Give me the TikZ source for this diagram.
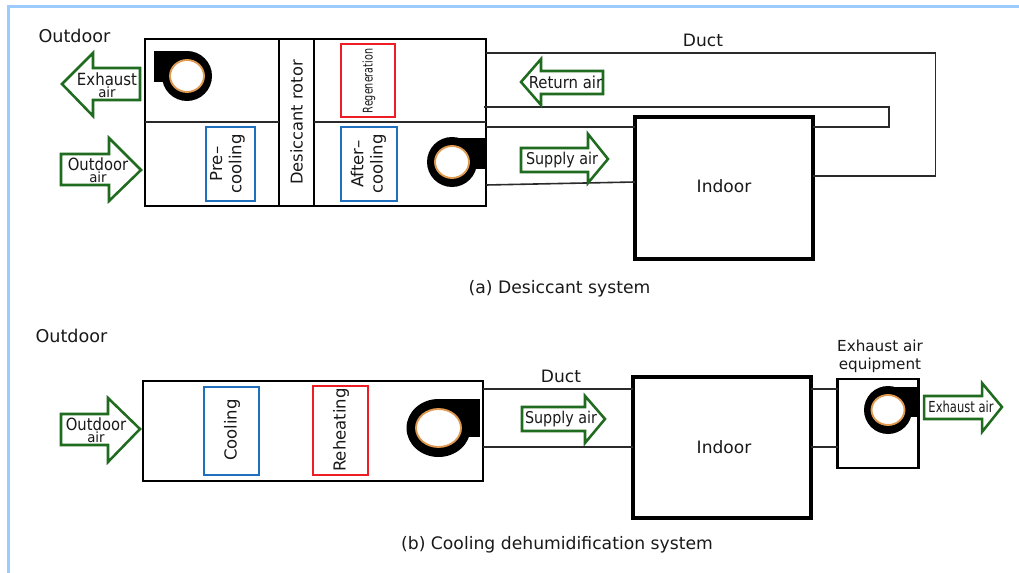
\documentclass[tikz,border=0pt]{standalone}
\usepackage{graphicx}
\usepackage{fontspec}
\setmainfont{DejaVu Sans}
\usetikzlibrary{shapes.geometric}
\newcommand{\fsz}[1]{\fontsize{#1}{#1}\selectfont}
\newcommand{\fszl}[2]{\fontsize{#1}{#2}\selectfont}
\newcommand{\squeeze}[2]{\scalebox{#1}[1]{#2}}
% name, style, x1, y1, x2, y2 in reference pixels
\newcommand{\pxbox}[6]{\node[#2,minimum width={(#5-#3)*0.75pt},minimum height={(#6-#4)*0.75pt}] (#1) at ({(#3+#5)/2},{(#4+#6)/2}) {};}
% name, cx, cy, rx, ry, corner x, top y, lower y, inner rx (inner ry in \fanry)
\newcommand{\pxfan}[9]{\fill[black] (#2,#3) ellipse [x radius=#4,y radius=#5];
  \fill[black] (#2,#7) rectangle (#6,#8);
  \node[fanhub,minimum width={#9*1.5pt},minimum height={\fanry*1.5pt}] (#1) at (#2,#3) {};}
\definecolor{frameblue}{HTML}{9CCBFF}
\definecolor{airgreen}{HTML}{1F6B1F}
\definecolor{coolblue}{HTML}{1F6FBF}
\definecolor{heatred}{HTML}{EE1C25}
\definecolor{ringorange}{HTML}{E09A50}
\definecolor{ductgray}{HTML}{2A2A2A}
\tikzset{
  box/.style={draw,rectangle,inner sep=0pt,outer sep=0pt},
  unit/.style={box,draw=black,line width=1.9pt},
  room/.style={box,draw=black,line width=3pt},
  hx/.style={box,line width=1.8pt},
  cool/.style={hx,draw=coolblue},
  heat/.style={hx,draw=heatred},
  duct/.style={draw=ductgray,line width=1.2pt},
  part/.style={draw=ductgray,line width=1.2pt},
  airarrow/.style={draw=airgreen,fill=white,line width=1.9pt,miter limit=10},
  fanhub/.style={draw=ringorange,fill=white,ellipse,line width=1.4pt,inner sep=0pt,outer sep=0pt},
  lab/.style={inner sep=0pt,outer sep=0pt,align=center,text=black!90},
}
\begin{document}
\begin{tikzpicture}[x=0.75pt,y=-0.75pt]
\useasboundingbox (0,0) rectangle (1019,573);
\fill[white] (0,0) rectangle (1019,573);
\fill[frameblue] (7,5) rectangle (1019,8);
\fill[frameblue] (7,5) rectangle (10,573);

% ---------- (a) ----------
\pxbox{unitA}{unit}{145}{39}{486}{206}
\pxbox{rotor}{unit}{279}{39}{314}{206}
\coordinate (splitA) at (145,122);
\draw[part] (splitA) -- (splitA -| rotor.west);
\draw[part] (splitA -| rotor.east) -- (splitA -| unitA.east);

\pxbox{regen}{heat}{341}{44}{395}{117}
\pxbox{precool}{cool}{206}{127}{255}{201}
\pxbox{aftercool}{cool}{341}{127}{397}{201}

\def\fanry{16}
\pxfan{fanA}{187}{76}{25}{25}{154}{51}{82}{17}
\def\fanry{16}
\pxfan{fanB}{452}{162}{25}{25}{485}{138}{169}{17}

\node[lab,rotate=90] (rotorL) at (rotor.center) {\fsz{12.2}Desiccant rotor};
\node[lab,rotate=90] (regenL) at (369,81) {\fsz{10}\squeeze{0.72}{Regeneration}};
\node[lab,rotate=90,font=\fszl{12.4}{14.5}] (preL) at (227.5,164) {Pre–\\cooling};
\node[lab,rotate=90,font=\fszl{12.4}{14.5}] (afterL) at (368.5,164) {After–\\cooling};

\node[room,minimum width={178*0.75pt},minimum height={142*0.75pt}] (indoorA) at (724,188) {};
\node[lab] (indoorAL) at (724,186) {\fsz{12.8}Indoor};

\coordinate (topCorner) at (935.5,53);
\coordinate (backCorner) at (935.5,176);
\coordinate (midStart) at (483.5,107);
\coordinate (midCorner) at (889,107);
\coordinate (lowCorner) at (889,127);
\coordinate (supplyA) at (486,185);
\coordinate (supplyB) at (635,182);
\draw[duct] (unitA.east |- topCorner) -- (topCorner) -- (backCorner) -- (indoorA.east |- backCorner);
\draw[duct] (midStart) -- (midCorner) -- (lowCorner) -- (indoorA.east |- lowCorner);
\draw[duct] (unitA.east |- lowCorner) -- (indoorA.west |- lowCorner);
\draw[duct] (supplyA) -- (supplyB);

\node[lab] (ductA) at (703,40) {\fsz{12.8}Duct};
\node[lab] (outA) at (74.5,36) {\fsz{13.2}Outdoor};
\node[lab] (capA) at (559.5,288.5) {\fsz{12.9}(a) Desiccant system};

\draw[airarrow] (140,68) -- (93,68) -- (93,53) -- (62,84) -- (93,116) -- (93,100) -- (140,100) -- cycle;
\node[lab,font=\fszl{12.6}{9.2}] (exhA) at (107,85.5) {\squeeze{0.89}{Exhaust}\\\fszl{10.5}{9.2}\squeeze{0.95}{air}};

\draw[airarrow] (61,154) -- (109,154) -- (109,138) -- (141,170) -- (109,201) -- (109,185) -- (61,185) -- cycle;
\node[lab,font=\fszl{12.6}{9.2}] (oaA) at (98,170.5) {\squeeze{0.88}{Outdoor}\\\fszl{10.5}{9.2}\squeeze{0.95}{air}};

\draw[airarrow] (603,71) -- (541,71) -- (541,59) -- (521,82) -- (541,105) -- (541,94) -- (603,94) -- cycle;
\node[lab] (retL) at (565.5,82) {\fsz{12.4}\squeeze{0.9}{Return air}};

\draw[airarrow] (521,148) -- (588,148) -- (588,134) -- (608,159) -- (588,183) -- (588,172) -- (521,172) -- cycle;
\node[lab] (supA) at (562,160) {\fsz{12.2}\squeeze{0.88}{Supply air}};

% ---------- (b) ----------
\pxbox{unitC}{unit}{143}{381}{483}{481}
\pxbox{coolb}{cool}{204}{387}{259}{475}
\pxbox{reheat}{heat}{313}{386}{368}{475}
\node[lab,rotate=90] (coolL) at (232,430) {\fsz{12.4}Cooling};
\node[lab,rotate=90] (reheatL) at (341,430) {\fsz{12.4}Reheating};

\def\fanry{19}
\pxfan{fanC}{438.5}{428}{32}{29}{480}{399}{437}{22.5}

\node[room,minimum width={178*0.75pt},minimum height={141*0.75pt}] (indoorB) at (721.5,447.5) {};
\node[lab] (indoorBL) at (724,447) {\fsz{12.8}Indoor};

\pxbox{exhBox}{box,draw=black,line width=1.8pt}{837.5}{379}{918.5}{468}
\def\fanry{15}
\pxfan{fanD}{888}{410}{24}{24}{917}{387}{417}{16.5}

\coordinate (ductTopB) at (0,389);
\coordinate (ductBotB) at (0,447);
\draw[duct] (unitC.east |- ductTopB) -- (indoorB.west |- ductTopB);
\draw[duct] (unitC.east |- ductBotB) -- (indoorB.west |- ductBotB);
\draw[duct] (indoorB.east |- ductTopB) -- (exhBox.west |- ductTopB);
\draw[duct] (indoorB.east |- ductBotB) -- (exhBox.west |- ductBotB);

\node[lab] (ductB) at (561,376.5) {\fsz{12.8}Duct};
\node[lab] (outB) at (71.5,336) {\fsz{13.2}Outdoor};
\node[lab] (capB) at (557,544.5) {\fsz{12.9}(b) Cooling dehumidification system};
\node[lab,font=\fszl{11.4}{13.4}] (eqL) at (880,356) {Exhaust air\\equipment};

\draw[airarrow] (61,414) -- (108,414) -- (108,398) -- (140,429) -- (108,462) -- (108,445) -- (61,445) -- cycle;
\node[lab,font=\fszl{12.6}{9.2}] (oaB) at (96,430.5) {\squeeze{0.88}{Outdoor}\\\fszl{10.5}{9.2}\squeeze{0.95}{air}};

\draw[airarrow] (522,407) -- (585,407) -- (585,396) -- (605,419) -- (585,443) -- (585,431) -- (522,431) -- cycle;
\node[lab] (supB) at (561,419) {\fsz{12.2}\squeeze{0.88}{Supply air}};

\draw[airarrow] (924,396) -- (982,396) -- (982,383) -- (1002,407) -- (982,432) -- (982,419) -- (924,419) -- cycle;
\node[lab] (exhB) at (961,407) {\fsz{11.4}\squeeze{0.76}{Exhaust air}};
\end{tikzpicture}
\end{document}
